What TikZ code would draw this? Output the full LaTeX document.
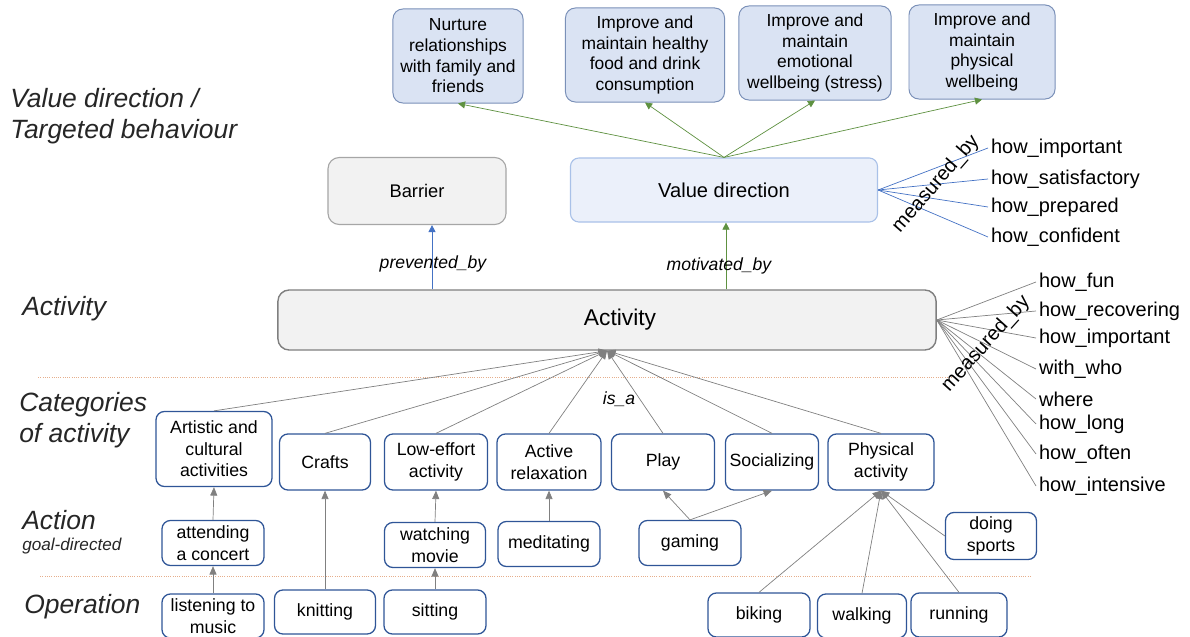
\documentclass[tikz,border=0pt]{standalone}
\usepackage{fontspec}
\setmainfont{Liberation Sans}
\usetikzlibrary{arrows.meta}

\definecolor{goalfill}{HTML}{DAE3F3}
\definecolor{goalline}{HTML}{7A90B8}
\definecolor{greyfill}{HTML}{F2F2F2}
\definecolor{greyline}{HTML}{A6A6A6}
\definecolor{valfill}{HTML}{EBF0FA}
\definecolor{valline}{HTML}{A9C1E8}
\definecolor{actline}{HTML}{7F7F7F}
\definecolor{catline}{HTML}{2F5597}
\definecolor{arrowgrey}{HTML}{808080}
\definecolor{motgreen}{HTML}{5E9140}
\definecolor{prevblue}{HTML}{4472C4}
\definecolor{sepline}{HTML}{E6AE8C}
\definecolor{leveltext}{HTML}{262626}

\tikzset{
  goalbox/.style={draw=goalline, fill=goalfill, rounded corners=7pt, align=center,
    minimum height=2.35cm, line width=0.7pt,
    font=\fontsize{12.4}{14.7}\selectfont},
  catbox/.style={draw=catline, fill=white, rounded corners=6pt, align=center,
    line width=0.9pt, inner sep=1pt, font=\fontsize{12.6}{15.4}\selectfont},
  levellabel/.style={anchor=west, inner sep=0pt, align=left, text=leveltext,
    font=\fontsize{18.8}{22.4}\selectfont\itshape},
  edgelabel/.style={font=\fontsize{12.5}{15}\selectfont\itshape},
  measure/.style={anchor=west, inner sep=2pt, font=\fontsize{14.2}{16}\selectfont},
  isa/.style={draw=arrowgrey, line width=0.5pt, -{Triangle[length=6pt,width=5pt]}},
}

\begin{document}
\begin{tikzpicture}[x=0.025cm, y=-0.025cm]
  \useasboundingbox (0,0) rectangle (1190,637);

  % Level labels on the left
  \node[levellabel] (lvvalue) at (10,116) {Value direction /\\Targeted behaviour};
  \node[levellabel] (lvact) at (22,309) {Activity};
  \node[levellabel] (lvcat) at (19,420) {Categories\\of activity};
  \node[levellabel] (lvaction) at (22,520) {Action};
  \node[levellabel, font=\fontsize{12.2}{14}\selectfont\itshape] (lvgoal) at (22,546) {goal-directed};
  \node[levellabel] (lvop) at (24,607) {Operation};

  % Dotted separators
  \draw[sepline, densely dotted, line width=0.6pt] (38,377) -- (952,377);
  \draw[sepline, densely dotted, line width=0.6pt] (40,576) -- (1032,576);

  % Targeted behaviours
  \node[goalbox, minimum width=3.25cm] (nurture) at (458,56) {Nurture\\relationships\\with family and\\friends};
  \node[goalbox, minimum width=3.975cm] (food) at (645,55) {Improve and\\maintain healthy\\food and drink\\consumption};
  \node[goalbox, minimum width=3.8cm] (emotion) at (815,53) {Improve and\\maintain\\emotional\\wellbeing (stress)};
  \node[goalbox, minimum width=3.65cm] (physwell) at (982,52) {Improve and\\maintain\\physical\\wellbeing};

  % Barrier and value direction
  \node[draw=greyline, fill=greyfill, rounded corners=8pt, line width=0.8pt,
        minimum width=4.45cm, minimum height=1.675cm,
        font=\fontsize{13}{15}\selectfont] (barrier) at (417,191) {Barrier};
  \node[draw=valline, fill=valfill, rounded corners=6pt, line width=0.8pt,
        minimum width=7.675cm, minimum height=1.6cm,
        font=\fontsize{14.3}{16}\selectfont] (value) at (724,190) {Value direction};

  % Activity
  \node[draw=actline, fill=greyfill, rounded corners=8pt, line width=1pt,
        minimum width=16.45cm, minimum height=1.5cm,
        font=\fontsize{16.2}{18}\selectfont] (activity) at (607,320) {\hspace*{0.65cm}Activity};

  % Value direction -> behaviours
  \foreach \g in {nurture,food,emotion,physwell}
    \draw[motgreen, line width=0.5pt, -{Triangle[length=5pt,width=5pt]}] (value.north) -- (\g.south);

  % prevented_by / motivated_by
  \draw[prevblue, line width=0.5pt, -{Triangle[length=5pt,width=5pt]}] (activity.north -| barrier.south) ++(15,0) coordinate (pbfoot) -- (pbfoot |- barrier.south);
  \draw[motgreen, line width=0.5pt, -{Triangle[length=5pt,width=5pt]}] (activity.north -| value.south) ++(2,0) coordinate (mbfoot) -- (mbfoot |- value.south);
  \node[edgelabel] (lblprev) at (433,264) {prevented\_by};
  \node[edgelabel] (lblmot) at (719,266) {motivated\_by};

  % Measures of value direction
  \node[measure] (vm1) at (988,148) {how\_important};
  \node[measure] (vm2) at (988,179) {how\_satisfactory};
  \node[measure] (vm3) at (988,207) {how\_prepared};
  \node[measure] (vm4) at (988,237) {how\_confident};
  \foreach \m in {vm1,vm2,vm3,vm4}
    \draw[prevblue, line width=0.5pt] (value.east) -- (\m.west);
  \node[measure, anchor=center, rotate=49] (vmby) at (936,184) {measured\_by};

  % Measures of activity
  \node[measure] (am1) at (1036,282) {how\_fun};
  \node[measure] (am2) at (1036,311) {how\_recovering};
  \node[measure] (am3) at (1036,338) {how\_important};
  \node[measure] (am4) at (1036,369) {with\_who};
  \node[measure] (am5) at (1036,399) {where};
  \node[measure] (am6) at (1036,424) {how\_long};
  \node[measure] (am7) at (1036,454) {how\_often};
  \node[measure] (am8) at (1036,486) {how\_intensive};
  \foreach \m in {am1,am2,am3,am4,am5,am6,am7,am8}
    \draw[arrowgrey, line width=0.5pt] (activity.east) -- (\m.west);
  \node[measure, anchor=center, rotate=48] (amby) at (986,344) {measured\_by};

  % Categories of activity
  \node[catbox, minimum width=2.9cm, minimum height=1.875cm] (artistic) at (214,449) {Artistic and\\cultural\\activities};
  \node[catbox, minimum width=2.275cm, minimum height=1.4cm] (crafts) at (325,462) {Crafts};
  \node[catbox, minimum width=2.575cm, minimum height=1.4cm] (loweffort) at (436,462) {Low-effort\\activity};
  \node[catbox, minimum width=2.6cm, minimum height=1.4cm] (activerel) at (549,462) {Active\\relaxation};
  \node[catbox, minimum width=2.575cm, minimum height=1.4cm] (play) at (663,462) {Play};
  \node[catbox, minimum width=2.325cm, minimum height=1.4cm] (social) at (772,462) {Socializing};
  \node[catbox, minimum width=2.65cm, minimum height=1.4cm] (physical) at (881,462) {Physical\\activity};
  \foreach \c in {artistic,crafts,loweffort,activerel,play,social,physical}
    \draw[isa] (\c.north) -- (activity.south);
  \node[edgelabel] (lblisa) at (619,399) {is\_a};

  % Actions
  \node[catbox, minimum width=2.55cm, minimum height=1.125cm] (concert) at (213,543) {attending\\a concert};
  \node[catbox, minimum width=2.525cm, minimum height=1.125cm] (movie) at (435,545) {watching\\movie};
  \node[catbox, minimum width=2.55cm, minimum height=1.125cm] (meditate) at (549,544) {meditating};
  \node[catbox, minimum width=2.55cm, minimum height=1.125cm] (gaming) at (690,543) {gaming};
  \node[catbox, minimum width=2.275cm, minimum height=1.175cm] (sports) at (991,536) {doing\\sports};

  % Operations
  \node[catbox, minimum width=2.55cm, minimum height=1.1cm] (listen) at (213,616) {listening to\\music};
  \node[catbox, minimum width=2.525cm, minimum height=1.1cm] (knit) at (325,612) {knitting};
  \node[catbox, minimum width=2.55cm, minimum height=1.1cm] (sit) at (435,612) {sitting};
  \node[catbox, minimum width=2.55cm, minimum height=1.1cm] (bike) at (759,615) {biking};
  \node[catbox, minimum width=2.225cm, minimum height=1.1cm] (walk) at (862,616) {walking};
  \node[catbox, minimum width=2.4cm, minimum height=1.1cm] (run) at (959,615) {running};

  % Lower level is_a links
  \draw[isa] (concert.north) -- (artistic.south);
  \draw[isa] (listen.north) -- (concert.south);
  \draw[isa] (knit.north) -- (crafts.south);
  \draw[isa] (sit.north) -- (movie.south);
  \draw[isa] (movie.north) -- (loweffort.south);
  \draw[isa] (meditate.north) -- (activerel.south);
  \draw[isa] (gaming.north) -- (play.south);
  \draw[isa] (gaming.north) -- (social.south);
  \draw[isa] (bike.north) -- (physical.south);
  \draw[isa] (walk.north) -- (physical.south);
  \draw[isa] (run.north) -- (physical.south);
  \draw[isa] (sports.west) -- (physical.south);

\end{tikzpicture}
\end{document}
